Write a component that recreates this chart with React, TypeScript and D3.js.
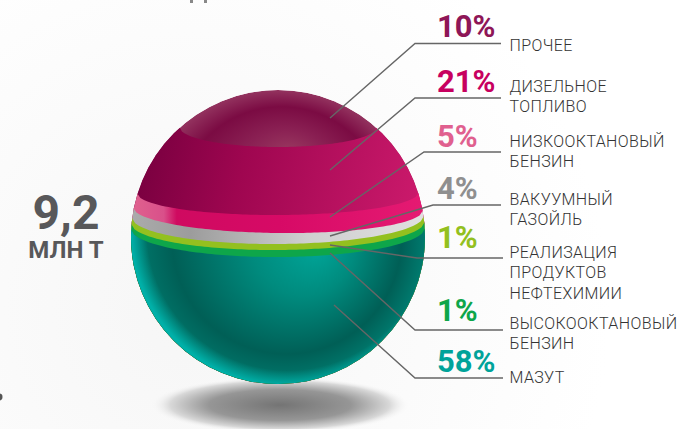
import React from "react";
import * as d3 from "d3";

const shares = ["10%", "21%", "5%", "4%", "1%", "1%", "58%"];
const names = [
  ["ПРОЧЕЕ"],
  ["ДИЗЕЛЬНОЕ", "ТОПЛИВО"],
  ["НИЗКООКТАНОВЫЙ", "БЕНЗИН"],
  ["ВАКУУМНЫЙ", "ГАЗОЙЛЬ"],
  ["РЕАЛИЗАЦИЯ", "ПРОДУКТОВ", "НЕФТЕХИМИИ"],
  ["ВЫСОКООКТАНОВЫЙ", "БЕНЗИН"],
  ["МАЗУТ"],
];
const shareColors = ["#8e1657", "#c7005f", "#e0608f", "#8f8f8f", "#93c01f", "#0ea64a", "#00a39a"];
const total = "9,2";
const unit = "МЛН Т";

// layout
const cx = 278, cy = 237, R = 147;
const shareBase = [37, 92, 147, 199, 248, 321, 372];
const nameBase = [51, 92, 147, 205, 258, 329, 383];
const lineHeight = 20.4;
const leaders: [number, number][][] = [
  [[330, 118], [415, 43.5], [501, 43.5]],
  [[330, 170], [415, 98], [501, 98]],
  [[330, 217], [424, 152], [501, 152]],
  [[330, 236], [433, 205], [501, 205]],
  [[330, 245], [417, 258], [503, 258]],
  [[330, 253], [415, 330], [503, 330]],
  [[334, 305], [415, 378], [503, 378]],
];
// lower boundary of each band above the bottom one: y at left rim, y at right rim, lowest y
const bandLeft = [127, 193, 207, 217, 223, 228];
const bandRight = [127, 192, 210, 215, 221, 227];
const bandLow = [147, 215, 233, 244, 250, 257];
const bandFill = ["url(#dark)", "url(#pink)", "url(#gray)", "#93c01f", "#0ea64a", "url(#teal)"];

const line = d3.line<[number, number]>().x((d) => d[0]).y((d) => d[1]);

function lowerRegion(i: number) {
  const yl = bandLeft[i], yr = bandRight[i], low = bandLow[i];
  const y0 = (yl + yr) / 2;
  const hw = Math.sqrt(Math.max(R * R - (y0 - cy) * (y0 - cy), 1)) + 1;
  const tilt = d3.scaleLinear().domain([-1, 1]).range([yl, yr]);
  const pts: [number, number][] = d3.range(-1, 1.0001, 0.025).map((t) => [
    cx + t * hw,
    tilt(t) + (low - y0) * Math.sqrt(Math.max(1 - t * t, 0)),
  ]);
  pts.push([cx + R + 5, pts[pts.length - 1][1]], [cx + R + 5, cy + R + 5], [cx - R - 5, cy + R + 5], [cx - R - 5, pts[0][1]]);
  return line(pts) + "Z";
}

const font = "Roboto, 'Noto Sans', sans-serif";

export default function App() {
  return (
    <svg
      width={680}
      height={429}
      viewBox="0 0 680 429"
      style={{ position: "absolute", left: 0, top: 0, display: "block" }}
    >
      <defs>
        <radialGradient id="bg" gradientUnits="userSpaceOnUse" cx={190} cy={310} r={420}>
          <stop offset="0" stopColor="#f6f6f6" />
          <stop offset="1" stopColor="#ffffff" />
        </radialGradient>
        <radialGradient id="shadow" gradientUnits="objectBoundingBox" cx="0.5" cy="0.5" r="0.5">
          <stop offset="0" stopColor="#747474" />
          <stop offset="0.55" stopColor="#969696" />
          <stop offset="0.85" stopColor="#d8d8d8" />
          <stop offset="1" stopColor="#f8f8f8" stopOpacity="0" />
        </radialGradient>
        <radialGradient id="cap" gradientUnits="userSpaceOnUse" cx={cx} cy={cy} r={R} fx={290} fy={150}>
          <stop offset="0" stopColor="#98375f" />
          <stop offset="0.35" stopColor="#8a2053" />
          <stop offset="0.72" stopColor="#7b0b43" />
          <stop offset="1" stopColor="#93335f" />
        </radialGradient>
        <linearGradient id="dark" gradientUnits="userSpaceOnUse" x1={145} y1={150} x2={420} y2={215}>
          <stop offset="0" stopColor="#7a0040" />
          <stop offset="0.35" stopColor="#9f0650" />
          <stop offset="1" stopColor="#cc1a6c" />
        </linearGradient>
        <linearGradient id="pink" gradientUnits="userSpaceOnUse" x1={135} y1={0} x2={423} y2={0}>
          <stop offset="0" stopColor="#df608e" />
          <stop offset="0.1" stopColor="#d9508a" />
          <stop offset="0.145" stopColor="#cf0a60" />
          <stop offset="0.5" stopColor="#d70a66" />
          <stop offset="1" stopColor="#e51a72" />
        </linearGradient>
        <linearGradient id="gray" gradientUnits="userSpaceOnUse" x1={132} y1={0} x2={424} y2={0}>
          <stop offset="0" stopColor="#ababab" />
          <stop offset="0.2" stopColor="#9c9c9c" />
          <stop offset="0.6" stopColor="#cfcfcf" />
          <stop offset="1" stopColor="#e0e0e0" />
        </linearGradient>
        <radialGradient id="teal" gradientUnits="userSpaceOnUse" cx={cx} cy={cy} r={R} fx={318} fy={248}>
          <stop offset="0" stopColor="#00a598" />
          <stop offset="0.35" stopColor="#008b7e" />
          <stop offset="0.78" stopColor="#005f56" />
          <stop offset="1" stopColor="#007a6e" />
        </radialGradient>
        <radialGradient id="rim" gradientUnits="userSpaceOnUse" cx={cx + 10} cy={cy - 8} r={R + 10}>
          <stop offset="0.9" stopColor="#00aba3" stopOpacity="0" />
          <stop offset="1" stopColor="#00b0a8" stopOpacity="1" />
        </radialGradient>
        <clipPath id="ball">
          <circle cx={cx} cy={cy} r={R} />
        </clipPath>
        <clipPath id="lower">
          <path d={lowerRegion(5)} />
        </clipPath>
      </defs>

      <rect width={680} height={429} fill="url(#bg)" />
      <circle cx={-1} cy={397} r={3.5} fill="#555" />
      <rect x={190} y={0} width={3} height={3} fill="#888" />
      <rect x={204} y={0} width={3} height={3} fill="#888" />

      <ellipse cx={280} cy={405} rx={129} ry={28} fill="url(#shadow)" />

      <g clipPath="url(#ball)">
        <circle cx={cx} cy={cy} r={R} fill="url(#cap)" />
        {bandFill.map((fill, i) => (
          <path key={i} d={lowerRegion(i)} fill={fill} />
        ))}
        <g clipPath="url(#lower)">
          <circle cx={cx} cy={cy} r={R} fill="url(#rim)" />
        </g>
      </g>

      <g fill="none" stroke="#666" strokeWidth={1.4}>
        {leaders.map((pts, i) => (
          <path key={i} d={line(pts) ?? ""} />
        ))}
      </g>

      <g fontFamily={font} fontWeight={700} fontSize={31}>
        {shares.map((s, i) => (
          <text key={i} x={437} y={shareBase[i]} fill={shareColors[i]}>
            {s}
          </text>
        ))}
      </g>

      <g fontFamily={font} fontWeight={300} fontSize={16} letterSpacing={0.4} fill="#333">
        {names.map((rows, i) =>
          rows.map((r, j) => (
            <text key={r + i} x={509.5} y={nameBase[i] + j * lineHeight}>
              {r}
            </text>
          ))
        )}
      </g>

      <g fontFamily={font} fontWeight={700} fill="#58585a" textAnchor="middle">
        <text x={66} y={229} fontSize={48}>
          {total}
        </text>
        <text x={66} y={258} fontSize={24}>
          {unit}
        </text>
      </g>
    </svg>
  );
}
